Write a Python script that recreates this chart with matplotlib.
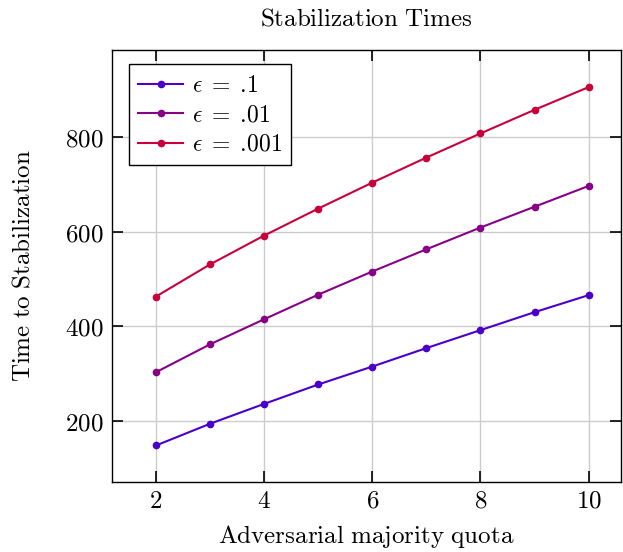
import matplotlib
matplotlib.use("Agg")
import matplotlib.pyplot as plt
from matplotlib.ticker import FuncFormatter, MultipleLocator

quota = [2, 3, 4, 5, 6, 7, 8, 9, 10]
eps_01 = [148, 194, 236, 277, 315, 354, 392, 430, 466]
eps_001 = [303, 362, 415, 467, 516, 563, 609, 653, 697]
eps_0001 = [463, 531, 592, 649, 704, 757, 808, 858, 906]
labels = [r'$\epsilon\;{=}\;.\!1$', r'$\epsilon\;{=}\;.\!01$', r'$\epsilon\;{=}\;.\!001$']
colors = ['#4a00c8', '#880088', '#c8003c']

plt.rcParams['mathtext.fontset'] = 'cm'
plt.rcParams['font.size'] = 18

fig = plt.figure(figsize=(6.23, 5.52), dpi=100)
ax = fig.add_axes([0.18, 0.127, 0.817, 0.782])

for ys, lab, c in zip([eps_01, eps_001, eps_0001], labels, colors):
    ax.plot(quota, ys, color=c, marker='o', markersize=4.5, linewidth=1.5, label=lab)

ax.set_xlim(1.19, 10.6)
ax.set_ylim(71, 984)
ax.xaxis.set_major_locator(MultipleLocator(2))
ax.yaxis.set_major_locator(MultipleLocator(200))
fmt = FuncFormatter(lambda v, p: r'$%d$' % v)
ax.xaxis.set_major_formatter(fmt)
ax.yaxis.set_major_formatter(fmt)
ax.tick_params(direction='in', length=8, width=1.2, top=True, right=True, labelsize=18, pad=6)
ax.tick_params(axis='x', pad=5)
for s in ax.spines.values():
    s.set_linewidth(1.0)
ax.grid(True, color='#cccccc', linewidth=1.0)
ax.set_axisbelow(True)

ax.set_title(r'$\mathrm{Stabilization\ Times}$', fontsize=18, pad=18)
ax.set_xlabel(r'$\mathrm{Adversarial\ majority\ quota}$', fontsize=18, labelpad=7)
ax.set_ylabel(r'$\mathrm{Time\ to\ Stabilization}$', fontsize=18, labelpad=22)

leg = ax.legend(loc='upper left', bbox_to_anchor=(0.033, 0.968), borderaxespad=0,
                fontsize=17, fancybox=False, framealpha=1,
                edgecolor='black', handlelength=1.9, handletextpad=0.35,
                borderpad=0.4, labelspacing=0.22)
leg.get_frame().set_linewidth(1.0)

fig.savefig('out.png', dpi=100)
